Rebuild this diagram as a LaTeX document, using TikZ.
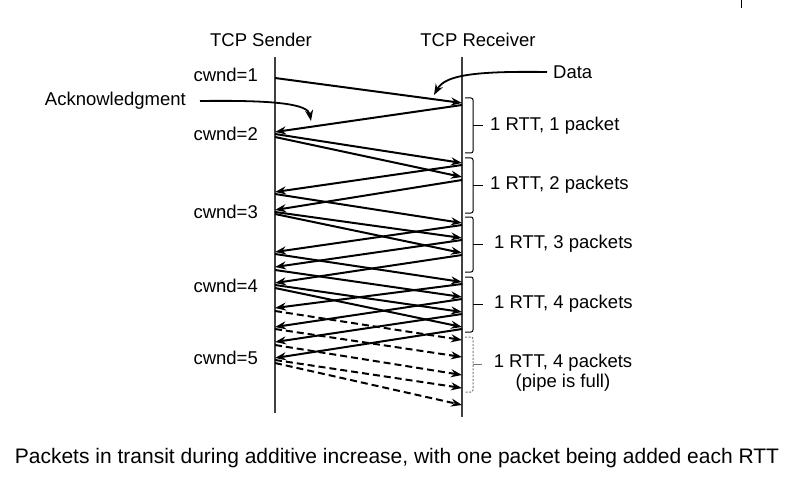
\documentclass[tikz,border=0pt]{standalone}
\usepackage{fontspec}
\setmainfont{Liberation Sans}
\usetikzlibrary{arrows.meta}

\tikzset{
  lifeline/.style={line width=1.6pt, black!75},
  pkt/.style={line width=2pt, -{Stealth[length=11pt,width=8pt]}},
  newpkt/.style={pkt, dash pattern=on 7pt off 4pt},
  lbl/.style={font=\fontsize{18.5}{20}\selectfont, inner sep=0pt},
  rtt/.style={line width=1pt, rounded corners=2pt},
}

\begin{document}
\begin{tikzpicture}[x=1pt,y=-1pt]
\useasboundingbox (0,0) rectangle (798,484);

% lifelines
\draw[lifeline] (275,57) -- (275,413);
\draw[lifeline] (462,57) -- (462,417);
\node[lbl] (snd) at (261,40) {TCP Sender};
\node[lbl] (rcv) at (478,40) {TCP Receiver};

% window sizes
\foreach \n/\y in {1/75, 2/134, 3/212, 4/286, 5/358}
  \node[lbl, anchor=east] (cw\n) at (258,\y) {cwnd=\n};

% data, sender to receiver
\foreach \s/\r in {78/103, 134/163, 137/177, 194/223, 212/238, 214/253,
                   254/282, 270/297, 285/312, 288/327}
  \draw[pkt] (275,\s) -- (462,\r);

% acks, receiver to sender
\foreach \r/\s in {105/132, 165/192, 180/210, 225/252, 240/267, 255/283,
                   284/308, 299/327, 314/342, 329/358}
  \draw[pkt] (462,\r) -- (275,\s);

% pipe is full
\foreach \s/\r in {311/340, 329/357, 345/375, 360/388, 363/405}
  \draw[newpkt] (275,\s) -- (462,\r);

% one bracket per round trip
\foreach \t in {98,158,217,277} {
  \draw[rtt] (465,\t) -- (473,\t) -- (473,\t+55) -- (465,\t+55);
  \draw[line width=1pt] (473,\t+27.5) -- (483,\t+27.5);
}
\draw[rtt, black!55, dash pattern=on 2pt off 1.5pt] (465,337) -- (473,337) -- (473,392) -- (465,392);
\draw[line width=0.8pt, black!55] (473,364) -- (482,364);

\node[lbl, anchor=west] (r1) at (490,126) {1 RTT, 1 packet};
\node[lbl, anchor=west] (r2) at (490,185) {1 RTT, 2 packets};
\node[lbl, anchor=west] (r3) at (494,244) {1 RTT, 3 packets};
\node[lbl, anchor=west] (r4) at (494,304) {1 RTT, 4 packets};
\node[lbl, align=center] (r5) at (563,373) {1 RTT, 4 packets\\(pipe is full)};

% callouts
\node[lbl, anchor=west] (data) at (553,72) {Data};
\draw[pkt, line width=1.8pt] ([xshift=-6pt]data.west) .. controls (475,71) and (445,75) .. (434,95);
\node[lbl, anchor=east] (ack) at (186,101) {Acknowledgment};
\draw[pkt, line width=1.8pt] ([xshift=14pt]ack.east) .. controls (275,100) and (308,104) .. (311,121);

% caption
\node[font=\fontsize{21}{24}\selectfont] (cap) at (397,458)
  {Packets in transit during additive increase, with one packet being added each RTT};

\draw[line width=1pt] (741,0) -- (741,8);
\end{tikzpicture}
\end{document}
